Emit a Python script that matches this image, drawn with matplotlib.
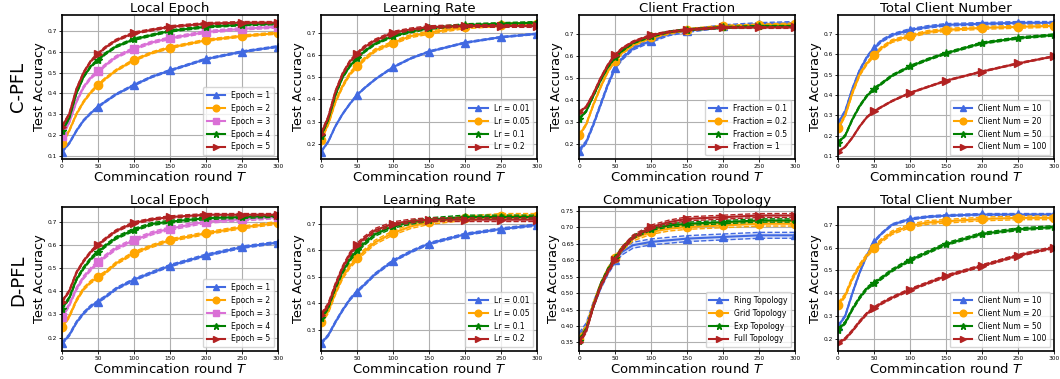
# curvas de precisión para C-PFL y D-PFL
import matplotlib.pyplot as plt

# rondas donde se leen los valores
rondas = [0, 10, 20, 30, 40, 50, 60, 75, 100, 125, 150, 200, 250, 300]

# C-PFL
cpfl_epoch = [
    [0.12, 0.16, 0.22, 0.27, 0.305, 0.335, 0.36, 0.395, 0.44, 0.48, 0.51, 0.565, 0.60, 0.625],
    [0.16, 0.22, 0.30, 0.36, 0.405, 0.44, 0.47, 0.51, 0.56, 0.595, 0.62, 0.655, 0.675, 0.69],
    [0.195, 0.26, 0.36, 0.43, 0.475, 0.505, 0.535, 0.575, 0.615, 0.645, 0.665, 0.695, 0.71, 0.72],
    [0.22, 0.28, 0.40, 0.48, 0.53, 0.56, 0.59, 0.625, 0.66, 0.68, 0.70, 0.72, 0.73, 0.735],
    [0.24, 0.30, 0.42, 0.50, 0.555, 0.59, 0.62, 0.655, 0.69, 0.705, 0.72, 0.735, 0.74, 0.74],
]
cpfl_epoch_std = [0.004, 0.005, 0.006, 0.005, 0.005]

cpfl_lr = [
    [0.165, 0.21, 0.28, 0.335, 0.38, 0.42, 0.45, 0.49, 0.545, 0.585, 0.615, 0.655, 0.68, 0.695],
    [0.22, 0.29, 0.39, 0.46, 0.515, 0.55, 0.58, 0.62, 0.655, 0.685, 0.70, 0.725, 0.735, 0.74],
    [0.235, 0.31, 0.42, 0.50, 0.55, 0.585, 0.615, 0.65, 0.685, 0.705, 0.72, 0.735, 0.74, 0.745],
    [0.245, 0.32, 0.435, 0.515, 0.57, 0.605, 0.635, 0.665, 0.70, 0.715, 0.725, 0.73, 0.73, 0.73],
]
cpfl_lr_std = [0.003, 0.007, 0.005, 0.006]

cpfl_frac = [
    [0.17, 0.21, 0.29, 0.38, 0.47, 0.545, 0.59, 0.635, 0.67, 0.70, 0.715, 0.735, 0.745, 0.75],
    [0.24, 0.29, 0.38, 0.46, 0.53, 0.58, 0.615, 0.65, 0.685, 0.705, 0.72, 0.735, 0.74, 0.745],
    [0.315, 0.35, 0.42, 0.49, 0.55, 0.595, 0.625, 0.66, 0.69, 0.71, 0.72, 0.73, 0.735, 0.735],
    [0.345, 0.37, 0.43, 0.50, 0.56, 0.605, 0.635, 0.665, 0.695, 0.71, 0.72, 0.73, 0.73, 0.73],
]
cpfl_frac_std = [0.007, 0.005, 0.004, 0.004]

cpfl_num = [
    [0.26, 0.32, 0.43, 0.52, 0.585, 0.63, 0.665, 0.695, 0.72, 0.735, 0.745, 0.75, 0.755, 0.755],
    [0.235, 0.30, 0.41, 0.50, 0.555, 0.595, 0.63, 0.665, 0.69, 0.71, 0.72, 0.73, 0.735, 0.74],
    [0.165, 0.20, 0.28, 0.345, 0.395, 0.43, 0.455, 0.495, 0.54, 0.575, 0.605, 0.655, 0.68, 0.695],
    [0.12, 0.145, 0.19, 0.245, 0.29, 0.32, 0.34, 0.37, 0.41, 0.44, 0.47, 0.515, 0.555, 0.59],
]
cpfl_num_std = [0.006, 0.007, 0.005, 0.003]

# D-PFL
dpfl_epoch = [
    [0.175, 0.21, 0.265, 0.305, 0.335, 0.355, 0.375, 0.41, 0.45, 0.48, 0.51, 0.555, 0.59, 0.61],
    [0.245, 0.29, 0.36, 0.41, 0.44, 0.46, 0.48, 0.52, 0.565, 0.595, 0.62, 0.65, 0.675, 0.695],
    [0.29, 0.34, 0.41, 0.46, 0.495, 0.525, 0.55, 0.585, 0.62, 0.65, 0.67, 0.70, 0.71, 0.72],
    [0.325, 0.37, 0.45, 0.50, 0.54, 0.57, 0.595, 0.63, 0.665, 0.69, 0.70, 0.715, 0.72, 0.725],
    [0.355, 0.40, 0.48, 0.53, 0.57, 0.60, 0.625, 0.66, 0.695, 0.71, 0.72, 0.73, 0.73, 0.73],
]
dpfl_epoch_std = [0.005, 0.006, 0.007, 0.006, 0.005]

dpfl_lr = [
    [0.25, 0.28, 0.33, 0.375, 0.415, 0.445, 0.47, 0.51, 0.56, 0.595, 0.625, 0.66, 0.68, 0.695],
    [0.33, 0.37, 0.44, 0.50, 0.54, 0.57, 0.595, 0.63, 0.665, 0.69, 0.705, 0.72, 0.73, 0.73],
    [0.345, 0.385, 0.46, 0.52, 0.565, 0.60, 0.625, 0.66, 0.69, 0.705, 0.715, 0.725, 0.725, 0.725],
    [0.355, 0.395, 0.47, 0.535, 0.585, 0.62, 0.645, 0.675, 0.70, 0.71, 0.715, 0.715, 0.715, 0.715],
]
dpfl_lr_std = [0.004, 0.008, 0.007, 0.007]

dpfl_topo = [
    [0.37, 0.40, 0.465, 0.52, 0.565, 0.60, 0.625, 0.645, 0.655, 0.66, 0.665, 0.67, 0.675, 0.675],
    [0.36, 0.395, 0.465, 0.525, 0.57, 0.605, 0.635, 0.665, 0.685, 0.695, 0.70, 0.705, 0.71, 0.71],
    [0.355, 0.39, 0.46, 0.525, 0.57, 0.605, 0.635, 0.67, 0.695, 0.705, 0.71, 0.715, 0.72, 0.72],
    [0.35, 0.385, 0.46, 0.52, 0.565, 0.60, 0.635, 0.67, 0.70, 0.715, 0.725, 0.73, 0.735, 0.735],
]
dpfl_topo_std = [0.009, 0.007, 0.005, 0.006]

dpfl_num = [
    [0.255, 0.30, 0.40, 0.49, 0.565, 0.625, 0.66, 0.70, 0.725, 0.735, 0.74, 0.745, 0.745, 0.745],
    [0.35, 0.39, 0.465, 0.52, 0.565, 0.60, 0.63, 0.665, 0.695, 0.71, 0.715, 0.725, 0.73, 0.73],
    [0.24, 0.27, 0.33, 0.38, 0.42, 0.445, 0.465, 0.50, 0.545, 0.58, 0.615, 0.66, 0.68, 0.69],
    [0.18, 0.20, 0.235, 0.275, 0.31, 0.335, 0.355, 0.38, 0.415, 0.445, 0.475, 0.52, 0.565, 0.60],
]
dpfl_num_std = [0.004, 0.008, 0.006, 0.005]

# etiquetas
et_epoch = ['Epoch = 1', 'Epoch = 2', 'Epoch = 3', 'Epoch = 4', 'Epoch = 5']
et_lr = ['Lr = 0.01', 'Lr = 0.05', 'Lr = 0.1', 'Lr = 0.2']
et_frac = ['Fraction = 0.1', 'Fraction = 0.2', 'Fraction = 0.5', 'Fraction = 1']
et_num = ['Client Num = 10', 'Client Num = 20', 'Client Num = 50', 'Client Num = 100']
et_topo = ['Ring Topology', 'Grid Topology', 'Exp Topology', 'Full Topology']

colores5 = ['royalblue', 'orange', 'orchid', 'green', 'firebrick']
marcas5 = ['^', 'o', 's', '*', '>']
colores4 = ['royalblue', 'orange', 'green', 'firebrick']
marcas4 = ['^', 'o', '*', '>']

paneles = [
    (0, 0, 'Local Epoch', cpfl_epoch, cpfl_epoch_std, et_epoch, colores5, marcas5),
    (0, 1, 'Learning Rate', cpfl_lr, cpfl_lr_std, et_lr, colores4, marcas4),
    (0, 2, 'Client Fraction', cpfl_frac, cpfl_frac_std, et_frac, colores4, marcas4),
    (0, 3, 'Total Client Number', cpfl_num, cpfl_num_std, et_num, colores4, marcas4),
    (1, 0, 'Local Epoch', dpfl_epoch, dpfl_epoch_std, et_epoch, colores5, marcas5),
    (1, 1, 'Learning Rate', dpfl_lr, dpfl_lr_std, et_lr, colores4, marcas4),
    (1, 2, 'Communication Topology', dpfl_topo, dpfl_topo_std, et_topo, colores4, marcas4),
    (1, 3, 'Total Client Number', dpfl_num, dpfl_num_std, et_num, colores4, marcas4),
]

W, H = 1060, 379
fig = plt.figure(figsize=(W / 100, H / 100), dpi=100)

izq = [62, 321, 579, 838]
arriba = [15, 207]
ancho, alto = 216, 144

marcas_cada = [i for i, r in enumerate(rondas) if r % 50 == 0]

for fila, col, titulo, series, stds, etiquetas, colores, marcas in paneles:
    ax = fig.add_axes([izq[col] / W, (H - arriba[fila] - alto) / H, ancho / W, alto / H])
    for y, s, et, c, m in zip(series, stds, etiquetas, colores, marcas):
        sup = [v + s for v in y]
        inf = [v - s for v in y]
        ax.fill_between(rondas, inf, sup, color=c, alpha=0.18, linewidth=0)
        ax.plot(rondas, sup, '--', color=c, linewidth=1.0)
        ax.plot(rondas, inf, '--', color=c, linewidth=1.0)
        ax.plot(rondas, y, color=c, marker=m, markevery=marcas_cada,
                markersize=6, linewidth=1.5, label=et)
    ax.set_xlim(0, 300)
    ax.set_xticks([0, 50, 100, 150, 200, 250, 300])
    ax.tick_params(labelsize=4.2, length=2, width=0.6, pad=1.5)
    ax.grid(True, color='#b0b0b0', linewidth=0.8)
    for sp in ax.spines.values():
        sp.set_linewidth(1.2)
    ax.set_title(titulo, fontsize=9.5, pad=2)
    ax.set_xlabel('Commincation round $T$', fontsize=9.5, labelpad=1)
    ax.set_ylabel('Test Accuracy', fontsize=9.3, labelpad=1)
    ax.legend(loc='lower right', fontsize=5.5, markerscale=0.8, handlelength=2.4,
              borderpad=0.5, labelspacing=0.5)

fig.text(18 / W, 1 - 87 / H, 'C-PFL', rotation=90, fontsize=13, ha='center', va='center')
fig.text(18 / W, 1 - 280 / H, 'D-PFL', rotation=90, fontsize=13, ha='center', va='center')

fig.savefig('out.png', dpi=100)
